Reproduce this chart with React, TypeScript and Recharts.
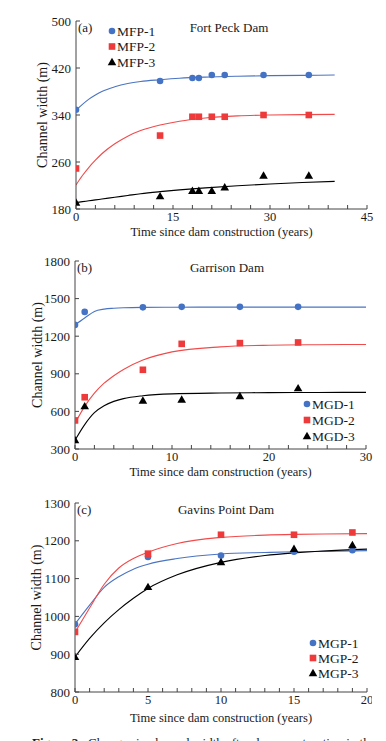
import { ComposedChart, Customized, Line, Scatter, XAxis, YAxis } from "recharts"

const FONT = '"Liberation Serif", "Times New Roman", serif'
const BLUE = "#4473c5"
const BLUE_LINE = "#4a74c2"
const RED = "#ee3a3a"
const RED_LINE = "#f04b4b"
const BLACK = "#000000"
const AXIS = "#444444"
const INK = "#1a1a1a"

// (a) Fort Peck Dam
const fpYears = [0, 13, 18, 19, 21, 23, 29, 36]
const mfp1 = [349, 398, 403, 403, 408, 408, 408, 408]
const mfp2 = [249, 305, 337, 337, 337, 337, 340, 340]
const mfp3 = [191, 202, 211, 211, 211, 217, 237, 237]
const fpFitYears = [0, 1, 2, 3, 4, 6, 8, 10, 13, 16, 20, 25, 30, 35, 40]
const mfp1Fit = [348, 358, 367, 374, 380, 388, 393.5, 397, 400, 402.5, 404.5, 406, 407, 407.5, 408]
const mfp2Fit = [221, 237, 251, 263, 274, 291, 304, 313.5, 323, 329.5, 335, 338.5, 340, 340.7, 341]
const mfp3Fit = [191, 192.5, 194, 195.5, 197, 200, 203, 206, 209.5, 212.5, 216, 219.5, 222.5, 225, 227]
const fpXTicks = [0, 3, 6, 9, 12, 15, 18, 21, 24, 27, 30, 33, 36, 39, 42, 45]
const fpXLabels = [0, 15, 30, 45]
const fpYTicks = [180, 260, 340, 420, 500]

// (b) Garrison Dam
const gYears = [0, 1, 7, 11, 17, 23]
const mgd1 = [1290, 1394, 1430, 1434, 1434, 1434]
const mgd2 = [528, 713, 932, 1139, 1145, 1150]
const mgd3 = [372, 642, 687, 695, 723, 786]
const gFitYears = [0, 1, 2, 3, 4, 5, 7, 10, 15, 20, 25, 30]
const mgd1Fit = [1290, 1345, 1398, 1416, 1423, 1427, 1430, 1431, 1432, 1432, 1432, 1432]
const mgd2Fit = [505, 640, 745, 825, 885, 935, 1010, 1075, 1115, 1128, 1132, 1134]
const mgd3Fit = [370, 495, 590, 645, 680, 702, 725, 740, 747, 750, 751, 752]
const gXTicks = [0, 2, 4, 6, 8, 10, 12, 14, 16, 18, 20, 22, 24, 26, 28, 30]
const gXLabels = [0, 10, 20, 30]
const gYTicks = [300, 600, 900, 1200, 1500, 1800]

// (c) Gavins Point Dam
const gpYears = [0, 5, 10, 15, 19]
const mgp1 = [979, 1157, 1161, 1171, 1175]
const mgp2 = [959, 1166, 1216, 1216, 1222]
const mgp3 = [893, 1078, 1144, 1179, 1189]
const gpFitYears = [0, 1, 2, 3, 4, 5, 7, 10, 13, 15, 17, 20]
const mgp1Fit = [980, 1030, 1077, 1105, 1125, 1138, 1153, 1165, 1169, 1171, 1172, 1174]
const mgp2Fit = [958, 1022, 1085, 1128, 1153, 1170, 1193, 1209, 1215, 1217, 1218, 1219]
const mgp3Fit = [893, 942, 983, 1018, 1048, 1074, 1110, 1143, 1161, 1168, 1173, 1178]
const gpXTicks = [0, 1, 2, 3, 4, 5, 6, 7, 8, 9, 10, 11, 12, 13, 14, 15, 16, 17, 18, 19, 20]
const gpXLabels = [0, 5, 10, 15, 20]
const gpYTicks = [800, 900, 1000, 1100, 1200, 1300]

const toPts = (xs: number[], ys: number[]) => xs.map((x, i) => ({ x, y: ys[i] }))

type Kind = "circle" | "square" | "triangle"

function Marker({ kind, cx, cy }: { kind: Kind; cx: number; cy: number }) {
  if (kind === "circle") return <circle cx={cx} cy={cy} r={3.3} fill={BLUE} />
  if (kind === "square")
    return <rect x={cx - 3.3} y={cy - 3.3} width={6.6} height={6.6} fill={RED} />
  return (
    <polygon
      points={`${cx},${cy - 4.2} ${cx + 4.3},${cy + 3.2} ${cx - 4.3},${cy + 3.2}`}
      fill={BLACK}
    />
  )
}

function makeXTick(labels: number[]) {
  return function XTick(props: any) {
    const { x, y, payload } = props
    return (
      <g>
        <line x1={x} x2={x} y1={y} y2={y - 4} stroke={AXIS} />
        {labels.includes(payload.value) && (
          <text x={x} y={y + 12} textAnchor="middle" fontSize={12.5} fontFamily={FONT} fill={INK}>
            {payload.value}
          </text>
        )}
      </g>
    )
  }
}

function YTick(props: any) {
  const { x, y, payload } = props
  return (
    <g>
      <line x1={x} x2={x + 4} y1={y} y2={y} stroke={AXIS} />
      <text x={x - 5} y={y} dy="0.35em" textAnchor="end" fontSize={13} fontFamily={FONT} fill={INK}>
        {payload.value}
      </text>
    </g>
  )
}

interface SeriesDef {
  name: string
  kind: Kind
  pts: { x: number; y: number }[]
  fit: { x: number; y: number }[]
  lineColor: string
}

interface PanelProps {
  top: number
  height: number
  clipWidth?: number
  plot: { left: number; right: number; top: number; bottom: number }
  xDomain: [number, number]
  xTicks: number[]
  xLabels: number[]
  yDomain: [number, number]
  yTicks: number[]
  series: SeriesDef[]
  tag: string
  title: string
  titleX: number
  yLabelX: number
  xTitleY: number
  legend: { x: number; y: number; gap: number }
}

function Panel(p: PanelProps) {
  const { plot } = p
  const midY = (plot.top + plot.bottom) / 2
  const Overlay = () => (
    <g fontFamily={FONT} fill={INK}>
      <text x={plot.left + 2} y={plot.top + 11} fontSize={13}>
        {p.tag}
      </text>
      <text x={p.titleX} y={plot.top + 11} fontSize={13} textAnchor="middle">
        {p.title}
      </text>
      <text
        x={p.yLabelX}
        y={midY}
        fontSize={14}
        textAnchor="middle"
        dy="0.35em"
        transform={`rotate(-90 ${p.yLabelX} ${midY})`}
      >
        Channel width (m)
      </text>
      <text x={(plot.left + plot.right) / 2} y={p.xTitleY} fontSize={12.5} textAnchor="middle">
        Time since dam construction (years)
      </text>
      {p.series.map((s, i) => {
        const cy = p.legend.y + i * p.legend.gap
        return (
          <g key={s.name}>
            <Marker kind={s.kind} cx={p.legend.x} cy={cy} />
            <text x={p.legend.x + 5} y={cy} dy="0.35em" fontSize={13.5}>
              {s.name}
            </text>
          </g>
        )
      })}
    </g>
  )

  return (
    <div
      style={{
        position: "absolute",
        left: 0,
        top: p.top,
        width: p.clipWidth ?? 386,
        height: p.height,
        overflow: "hidden",
      }}
    >
      <ComposedChart
        width={386}
        height={p.height}
        margin={{ top: plot.top, right: 386 - plot.right, bottom: 0, left: 0 }}
      >
        <XAxis
          type="number"
          dataKey="x"
          domain={p.xDomain}
          ticks={p.xTicks}
          interval={0}
          allowDataOverflow
          height={p.height - plot.bottom}
          tickSize={0}
          tickMargin={0}
          tick={makeXTick(p.xLabels)}
          axisLine={{ stroke: AXIS }}
        />
        <YAxis
          type="number"
          dataKey="y"
          domain={p.yDomain}
          ticks={p.yTicks}
          interval={0}
          allowDataOverflow
          width={plot.left}
          tickSize={0}
          tickMargin={0}
          tick={YTick}
          axisLine={{ stroke: AXIS }}
        />
        {p.series.map((s) => (
          <Line
            key={`fit-${s.name}`}
            data={s.fit}
            dataKey="y"
            type="monotone"
            stroke={s.lineColor}
            strokeWidth={1.1}
            dot={false}
            activeDot={false}
            isAnimationActive={false}
          />
        ))}
        {p.series.map((s) => (
          <Scatter
            key={`pts-${s.name}`}
            data={s.pts}
            dataKey="y"
            isAnimationActive={false}
            shape={(sp: any) => <Marker kind={s.kind} cx={sp.cx} cy={sp.cy} />}
          />
        ))}
        <Customized component={<Overlay />} />
      </ComposedChart>
    </div>
  )
}

export default function App() {
  return (
    <div
      style={{
        position: "absolute",
        left: 0,
        top: 0,
        width: 386,
        height: 741,
        overflow: "hidden",
        background: "#ffffff",
      }}
    >
      <Panel
        top={0}
        height={240}
        plot={{ left: 76, right: 367, top: 21, bottom: 209 }}
        xDomain={[0, 45]}
        xTicks={fpXTicks}
        xLabels={fpXLabels}
        yDomain={[180, 500]}
        yTicks={fpYTicks}
        tag="(a)"
        title="Fort Peck Dam"
        titleX={229}
        yLabelX={42}
        xTitleY={235.5}
        legend={{ x: 112, y: 31, gap: 15.5 }}
        series={[
          { name: "MFP-1", kind: "circle", pts: toPts(fpYears, mfp1), fit: toPts(fpFitYears, mfp1Fit), lineColor: BLUE_LINE },
          { name: "MFP-2", kind: "square", pts: toPts(fpYears, mfp2), fit: toPts(fpFitYears, mfp2Fit), lineColor: RED_LINE },
          { name: "MFP-3", kind: "triangle", pts: toPts(fpYears, mfp3), fit: toPts(fpFitYears, mfp3Fit), lineColor: BLACK },
        ]}
      />
      <Panel
        top={240}
        height={240}
        plot={{ left: 75, right: 366, top: 21, bottom: 209 }}
        xDomain={[0, 30]}
        xTicks={gXTicks}
        xLabels={gXLabels}
        yDomain={[300, 1800]}
        yTicks={gYTicks}
        tag="(b)"
        title="Garrison Dam"
        titleX={227}
        yLabelX={37}
        xTitleY={235.5}
        legend={{ x: 307, y: 164, gap: 16 }}
        series={[
          { name: "MGD-1", kind: "circle", pts: toPts(gYears, mgd1), fit: toPts(gFitYears, mgd1Fit), lineColor: BLUE_LINE },
          { name: "MGD-2", kind: "square", pts: toPts(gYears, mgd2), fit: toPts(gFitYears, mgd2Fit), lineColor: RED_LINE },
          { name: "MGD-3", kind: "triangle", pts: toPts(gYears, mgd3), fit: toPts(gFitYears, mgd3Fit), lineColor: BLACK },
        ]}
      />
      <Panel
        top={480}
        height={261}
        clipWidth={372}
        plot={{ left: 75, right: 367, top: 23, bottom: 212 }}
        xDomain={[0, 20]}
        xTicks={gpXTicks}
        xLabels={gpXLabels}
        yDomain={[800, 1300]}
        yTicks={gpYTicks}
        tag="(c)"
        title="Gavins Point Dam"
        titleX={226}
        yLabelX={36}
        xTitleY={242}
        legend={{ x: 313, y: 163, gap: 15 }}
        series={[
          { name: "MGP-1", kind: "circle", pts: toPts(gpYears, mgp1), fit: toPts(gpFitYears, mgp1Fit), lineColor: BLUE_LINE },
          { name: "MGP-2", kind: "square", pts: toPts(gpYears, mgp2), fit: toPts(gpFitYears, mgp2Fit), lineColor: RED_LINE },
          { name: "MGP-3", kind: "triangle", pts: toPts(gpYears, mgp3), fit: toPts(gpFitYears, mgp3Fit), lineColor: BLACK },
        ]}
      />
      <div
        style={{
          position: "absolute",
          left: 32,
          top: 735,
          width: 340,
          overflow: "hidden",
          fontFamily: FONT,
          fontSize: 13,
          color: INK,
          whiteSpace: "nowrap",
        }}
      >
        <b>Figure 3</b>&nbsp;&nbsp;&nbsp;Changes in channel width after dam construction in the
      </div>
    </div>
  )
}
